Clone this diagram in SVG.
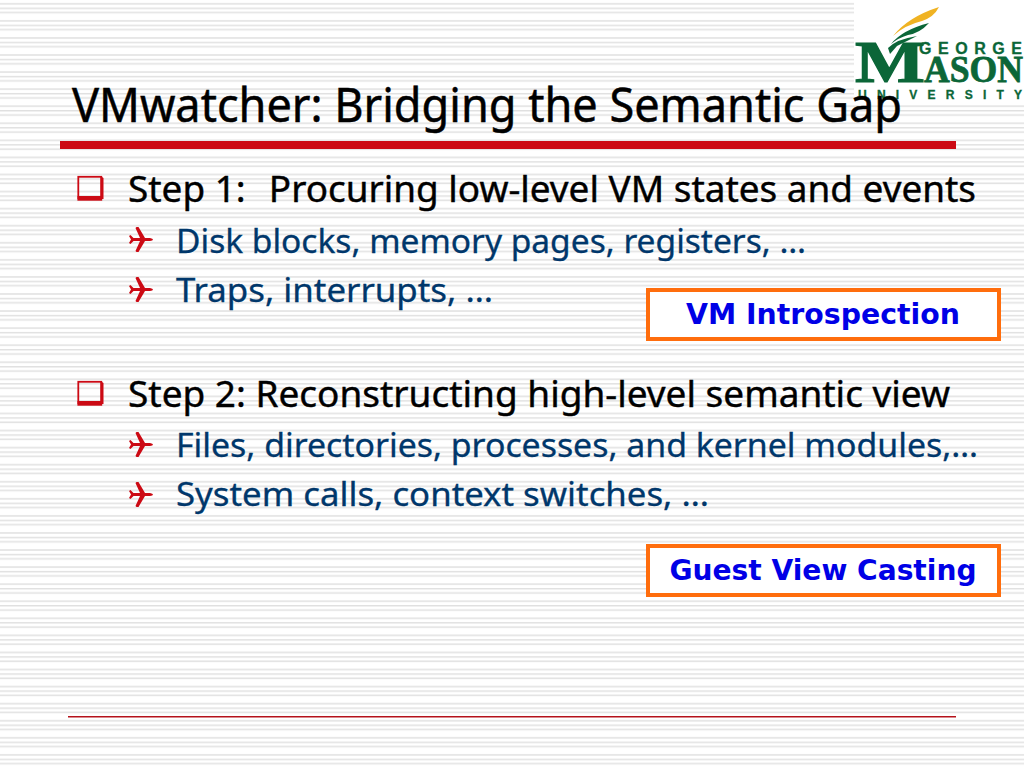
<svg xmlns="http://www.w3.org/2000/svg" width="1024" height="768" viewBox="0 0 1024 768">
<defs>
<pattern id="stripes" width="8" height="17.07" patternUnits="userSpaceOnUse">
<rect width="8" height="17.07" fill="#fff"/>
<rect y="3" width="8" height="1.6" fill="#e3e3e3"/>
<rect y="7.8" width="8" height="1.1" fill="#d8d8d8"/>
<rect y="11.8" width="8" height="1.6" fill="#e3e3e3"/>
</pattern>
<g id="bullet"><rect x="0.8" y="0.8" width="23" height="23" fill="none" stroke="#cc0a14" stroke-width="1.8"/><path d="M0 23H26V2L23 0V20H0Z" fill="#cc0a14"/></g>
<path id="plane" d="M0 9 L1.5 8 L4.5 11 L11 11 L6.5 1 L7.5 0 L9.5 0 L16 11 L21 11 Q24 11.5 24 12.5 Q24 13.5 21 14 L16 14 L9.5 25 L7.5 25 L6.5 24 L11 14 L4.5 14 L1.5 17 L0 16 L2 12.5Z" fill="#cc0a14"/>
</defs>
<style>
text{font-family:"Noto Sans","DejaVu Sans",sans-serif;white-space:pre}
.title{font-size:48px;fill:#000;stroke:#000;stroke-width:.5px}
.l1{font-size:37px;fill:#000;stroke:#000;stroke-width:.4px}
.l2{font-size:33px;fill:#00376b;stroke:#00376b;stroke-width:.3px}
.box{fill:#fff;stroke:#ff6d0d;stroke-width:4}
.boxt{font-family:"DejaVu Sans",sans-serif;font-size:28px;font-weight:bold;fill:#0000e6;text-anchor:middle}
.logo{fill:#0b6638;stroke:#0b6638;font-weight:bold}
</style>
<rect width="1024" height="768" fill="url(#stripes)"/>
<g id="logo">
<rect x="854" y="0" width="170" height="102" fill="#fff"/>
<path d="M893 36 Q908 17 939 7 Q934 17 922 21 Q905 25 893 36Z" fill="#f0b323"/>
<path d="M891 44 Q902 30 929 23 Q920 33 908 35 Q898 38 891 44Z" fill="#0b6638"/>
<path d="M888 48 Q897 39 917 36 Q905 42 897 46 L890 54Z" fill="#0b6638"/>
<text class="logo" x="919" y="54" style="font-family:'Liberation Sans',sans-serif;stroke-width:.3px" font-size="16" textLength="103">GEORGE</text>
<text class="logo" x="855" y="82" style="font-family:'Liberation Serif',serif;stroke-width:1.2px" font-size="60" textLength="70" lengthAdjust="spacingAndGlyphs">M</text>
<text class="logo" x="924" y="82" style="font-family:'Liberation Serif',serif;stroke-width:.8px" font-size="38" textLength="99" lengthAdjust="spacingAndGlyphs">ASON</text>
<text class="logo" x="858" y="98.500" style="font-family:'Liberation Sans',sans-serif;stroke-width:.3px" font-size="12" textLength="164">UNIVERSITY</text>
</g>
<g id="title">
<text class="title" x="72" y="122" textLength="830" lengthAdjust="spacingAndGlyphs">VMwatcher: Bridging the Semantic Gap</text>
<rect x="60" y="141" width="896" height="8" fill="#cc0a14"/>
</g>
<g id="step1">
<use href="#bullet" x="77.5" y="176"/>
<text class="l1" x="128" y="202" textLength="848" lengthAdjust="spacingAndGlyphs">Step 1:  <tspan dx="4">Procuring low-level VM states and events</tspan></text>
<use href="#plane" x="129" y="227"/>
<text class="l2" x="176" y="253" textLength="630" lengthAdjust="spacingAndGlyphs">Disk blocks, memory pages, registers, …</text>
<use href="#plane" x="129" y="277"/>
<text class="l2" x="176" y="302" textLength="317" lengthAdjust="spacingAndGlyphs">Traps, interrupts, …</text>
</g>
<g id="step2">
<use href="#bullet" x="77.5" y="381"/>
<text class="l1" x="128" y="407" textLength="822" lengthAdjust="spacingAndGlyphs">Step 2: Reconstructing high-level semantic view</text>
<use href="#plane" x="129" y="432"/>
<text class="l2" x="176" y="457" textLength="802" lengthAdjust="spacingAndGlyphs">Files, directories, processes, and kernel modules,…</text>
<use href="#plane" x="129" y="482"/>
<text class="l2" x="176" y="506" textLength="533" lengthAdjust="spacingAndGlyphs">System calls, context switches, …</text>
</g>
<g id="vm-introspection">
<rect class="box" x="648" y="290" width="351" height="49"/>
<text class="boxt" x="823" y="323.5" textLength="274" lengthAdjust="spacingAndGlyphs">VM Introspection</text>
</g>
<g id="guest-view-casting">
<rect class="box" x="648" y="546" width="351" height="49"/>
<text class="boxt" x="823" y="579.5" textLength="307" lengthAdjust="spacingAndGlyphs">Guest View Casting</text>
</g>
<rect id="footer-line" x="68" y="716" width="888" height="1.5" fill="#b5121b"/>
</svg>
